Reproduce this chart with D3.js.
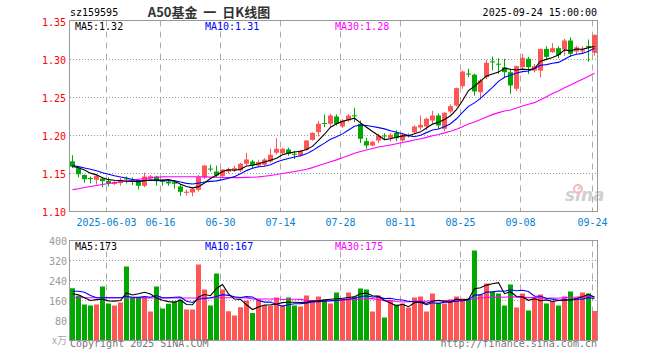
<!DOCTYPE html>
<html>
<head>
<meta charset="utf-8">
<script src="https://cdn.jsdelivr.net/npm/d3@7"></script>
<style>
body { margin:0; background:#fff; }
svg { display:block; }
text { font-family: "DejaVu Sans Mono", "Liberation Mono", monospace; font-size:10px; }
</style>
</head>
<body>
<svg id="chart" width="660" height="360"></svg>
<script>
// trading days shown
var dates = ["2025-05-23","2025-05-26","2025-05-27","2025-05-28","2025-05-29","2025-05-30",
 "2025-06-03","2025-06-04","2025-06-05","2025-06-06","2025-06-09","2025-06-10","2025-06-11","2025-06-12","2025-06-13",
 "2025-06-16","2025-06-17","2025-06-18","2025-06-19","2025-06-20","2025-06-23","2025-06-24","2025-06-25","2025-06-26","2025-06-27","2025-06-30",
 "2025-07-01","2025-07-02","2025-07-03","2025-07-04","2025-07-07","2025-07-08","2025-07-09","2025-07-10","2025-07-11",
 "2025-07-14","2025-07-15","2025-07-16","2025-07-17","2025-07-18","2025-07-21","2025-07-22","2025-07-23","2025-07-24","2025-07-25",
 "2025-07-28","2025-07-29","2025-07-30","2025-07-31","2025-08-01","2025-08-04","2025-08-05","2025-08-06","2025-08-07","2025-08-08",
 "2025-08-11","2025-08-12","2025-08-13","2025-08-14","2025-08-15","2025-08-18","2025-08-19","2025-08-20","2025-08-21","2025-08-22",
 "2025-08-25","2025-08-26","2025-08-27","2025-08-28","2025-08-29","2025-09-01","2025-09-02","2025-09-03","2025-09-04","2025-09-05",
 "2025-09-08","2025-09-09","2025-09-10","2025-09-11","2025-09-12","2025-09-15","2025-09-16","2025-09-17","2025-09-18","2025-09-19",
 "2025-09-22","2025-09-23","2025-09-24"];

var open = [1.166,1.157,1.148,1.1441,1.1417,1.1434,1.140,1.1362,1.1373,1.1435,
 1.142,1.1408,1.1338,1.1437,1.146,1.1408,1.139,1.1386,1.1329,1.1245,
 1.125,1.1286,1.145,1.1565,1.1526,1.1465,1.1526,1.154,1.154,1.1628,
 1.1658,1.1605,1.1615,1.1658,1.1773,1.1767,1.1816,1.176,1.1737,1.1812,
 1.1943,1.2043,1.2165,1.2154,1.225,1.2118,1.2197,1.2265,1.2154,1.1925,
 1.1868,1.1934,1.200,1.1965,1.2035,1.1934,1.200,1.2043,1.2105,1.2118,
 1.2197,1.2263,1.2088,1.2316,1.2395,1.2649,1.2815,1.280,1.257,1.2767,
 1.2975,1.2945,1.2898,1.2833,1.2615,1.2899,1.301,1.2855,1.2855,1.314,
 1.3096,1.3149,1.3132,1.325,1.3105,1.3105,1.3178,1.3087];
var high = [1.174,1.158,1.149,1.146,1.148,1.145,1.145,1.1405,1.144,1.146,
 1.145,1.142,1.151,1.148,1.147,1.142,1.141,1.139,1.1355,1.129,
 1.131,1.148,1.161,1.1615,1.1605,1.156,1.158,1.160,1.164,1.177,
 1.168,1.168,1.170,1.1825,1.1965,1.184,1.184,1.180,1.181,1.194,
 1.204,1.219,1.2276,1.2285,1.2276,1.2215,1.228,1.2365,1.2197,1.197,
 1.193,1.2022,1.203,1.203,1.207,1.2035,1.203,1.2135,1.2263,1.2237,
 1.2325,1.229,1.2308,1.241,1.263,1.2855,1.2878,1.2815,1.2745,1.2995,
 1.304,1.3017,1.301,1.2878,1.292,1.3075,1.3035,1.2942,1.314,1.3175,
 1.3215,1.3175,1.327,1.329,1.318,1.3175,1.3263,1.3325];
var low = [1.157,1.145,1.138,1.137,1.1355,1.132,1.133,1.135,1.134,1.137,
 1.135,1.129,1.132,1.142,1.134,1.134,1.134,1.130,1.1207,1.121,
 1.120,1.126,1.143,1.1526,1.145,1.144,1.150,1.152,1.152,1.161,
 1.157,1.158,1.160,1.164,1.175,1.175,1.1735,1.169,1.172,1.180,
 1.193,1.1987,1.211,1.2118,1.213,1.210,1.218,1.2175,1.190,1.1825,
 1.186,1.190,1.194,1.192,1.1925,1.192,1.197,1.2025,1.2075,1.207,
 1.2155,1.2085,1.2055,1.229,1.238,1.2615,1.2767,1.2525,1.2475,1.274,
 1.2855,1.2813,1.2755,1.2549,1.2585,1.2865,1.281,1.283,1.2767,1.300,
 1.3088,1.3017,1.305,1.3035,1.3075,1.3075,1.297,1.3052];
var close = [1.159,1.149,1.1425,1.1435,1.147,1.140,1.1364,1.1385,1.1417,1.1425,
 1.139,1.1338,1.146,1.1464,1.141,1.139,1.137,1.1365,1.1259,1.126,
 1.130,1.145,1.1605,1.1555,1.1474,1.1553,1.156,1.157,1.1628,1.1684,
 1.1605,1.165,1.1684,1.1746,1.1825,1.1825,1.176,1.1755,1.180,1.1934,
 1.2035,1.2154,1.216,1.2263,1.2154,1.2197,1.2263,1.226,1.1957,1.1868,
 1.1917,1.1996,1.1995,1.2009,1.1965,1.2009,1.2009,1.2118,1.214,1.222,
 1.2263,1.2132,1.2299,1.2386,1.2623,1.2842,1.281,1.258,1.2724,1.2957,
 1.297,1.294,1.2833,1.2658,1.2912,1.3022,1.2899,1.2912,1.314,1.3035,
 1.3149,1.306,1.325,1.3075,1.316,1.312,1.3175,1.3325];

// volume, 万
var volume = [209,180,144,140,144,216,148,140,152,296,
 173,173,171,116,216,128,147,157,163,124,
 124,304,204,140,268,204,117,100,133,160,
 110,165,140,140,172,140,172,140,136,180,
 160,176,160,148,192,168,192,176,208,204,
 116,180,92,160,144,148,132,172,176,116,
 188,152,148,164,176,168,168,360,184,228,
 196,188,140,224,132,188,120,172,184,148,
 156,140,176,196,172,192,188,118];

// averages of the first days (need history before the window)
var ma5Head = [1.1592,1.1575,1.1545,1.1505];
var ma10Head = [1.1605,1.1590,1.1572,1.1555,1.1535,1.1510,1.1490,1.1470,1.1455];
var ma30Head = [1.1288,1.1300,1.1315,1.1330,1.1342,1.1355,1.1368,1.1380,1.1392,1.1402,
 1.1414,1.1425,1.1435,1.1442,1.1450,1.1455,1.1458,1.1458,1.1458,1.1458,
 1.1457,1.1456,1.1455,1.1452,1.1450,1.1448,1.1447,1.1446,1.1446];
var vma5Head = [187,183,171,160];
var vma10Head = [197,197,193,180,171,171,171,171,171];
var vma30Head = [171,171,171,171,171,171,171,171,171,171,171,170,170,170,170,
 170,170,170,170,170,170,170,170,170,171,171,171,171,171];

var priceTicks = [1.10,1.15,1.20,1.25,1.30,1.35];
var volTicks = [80,160,240,320,400];
var dateTicks = ["2025-06-03","2025-06-16","2025-06-30","2025-07-14","2025-07-28","2025-08-11","2025-08-25","2025-09-08","2025-09-24"];
var dateLabels = ["2025-06-03","06-16","06-30","07-14","07-28","08-11","08-25","09-08","09-24"];

var upColor = "#ff5555", downColor = "#00a800";

function movingAvg(vals, n, head) {
    return vals.map(function(v, i) {
        if (i < n - 1) return head[i];
        return d3.mean(vals.slice(i - n + 1, i + 1));
    });
}

var ma5 = movingAvg(close, 5, ma5Head);
var ma10 = movingAvg(close, 10, ma10Head);
var ma30 = movingAvg(close, 30, ma30Head);
var vma5 = movingAvg(volume, 5, vma5Head);
var vma10 = movingAvg(volume, 10, vma10Head);
var vma30 = movingAvg(volume, 30, vma30Head);

var chart = d3.select("#chart");

var xScale = d3.scaleBand().domain(dates).range([70, 598]).padding(0);
var yPrice = d3.scaleLinear().domain([1.10, 1.35]).range([211.5, 21.5]);
var yVol = d3.scaleLinear().domain([0, 400]).range([340.5, 240.5]);

var defs = chart.append("defs");
defs.append("clipPath").attr("id", "clipP").append("rect")
    .attr("x", 70).attr("y", 21).attr("width", 527).attr("height", 190);
defs.append("clipPath").attr("id", "clipV").append("rect")
    .attr("x", 70).attr("y", 241).attr("width", 527).attr("height", 99);

// header
chart.append("text").text("sz159595").attr("x", 70).attr("y", 16).attr("fill", "#000");
chart.append("text").text("A50基金  一  日K线图")
    .attr("x", 209).attr("y", 17)
    .style("text-anchor", "middle")
    .style("white-space", "pre")
    .style("font-family", "'Noto Sans CJK SC', sans-serif")
    .style("font-size", "13px")
    .attr("font-weight", "bold")
    .attr("fill", "#333");
chart.append("text").text("2025-09-24 15:00:00").attr("x", 597).attr("y", 16)
    .style("text-anchor", "end").attr("fill", "#000");

// grids
[["P", 20.5, 211.5], ["V", 240.5, 340.5]].forEach(function(p) {
    chart.append("g").selectAll("line")
        .data(dateTicks).enter()
        .append("line")
            .attr("x1", function(d) { return xScale(d) + 0.5; })
            .attr("x2", function(d) { return xScale(d) + 0.5; })
            .attr("y1", p[1]).attr("y2", p[2])
            .attr("stroke", "#aaa")
            .attr("stroke-dasharray", "6,5");
});

chart.append("g").selectAll("line")
    .data(priceTicks.slice(1, 5)).enter()
    .append("line")
        .attr("x1", 70).attr("x2", 597)
        .attr("y1", function(d) { return yPrice(d); })
        .attr("y2", function(d) { return yPrice(d); })
        .attr("stroke", "#999")
        .attr("stroke-dasharray", "1,2");

chart.append("g").selectAll("line")
    .data(volTicks.slice(0, 4)).enter()
    .append("line")
        .attr("x1", 70).attr("x2", 597)
        .attr("y1", function(d) { return yVol(d); })
        .attr("y2", function(d) { return yVol(d); })
        .attr("stroke", "#999")
        .attr("stroke-dasharray", "1,2");

// watermark
var wm = chart.append("g").attr("opacity", 0.55);
wm.append("text").text("sina").attr("x", 565).attr("y", 201)
    .style("font-family", "'DejaVu Sans', sans-serif")
    .style("font-size", "17px").style("font-style", "italic").attr("font-weight", "bold")
    .attr("fill", "#aaa");
wm.append("circle").attr("cx", 578).attr("cy", 189).attr("r", 4)
    .attr("fill", "none").attr("stroke", "#f08080").attr("stroke-width", 2);

// candles
var candles = chart.append("g").attr("clip-path", "url(#clipP)");
candles.selectAll(".wick")
    .data(dates).enter()
    .append("rect")
        .attr("class", "wick")
        .attr("x", function(d) { return xScale(d) + 2; })
        .attr("y", function(d, i) { return yPrice(high[i]); })
        .attr("width", 1)
        .attr("height", function(d, i) { return Math.max(1, yPrice(low[i]) - yPrice(high[i])); })
        .attr("fill", function(d, i) { return close[i] >= open[i] ? upColor : downColor; });
candles.selectAll(".body")
    .data(dates).enter()
    .append("rect")
        .attr("class", "body")
        .attr("x", function(d) { return xScale(d); })
        .attr("y", function(d, i) { return yPrice(Math.max(open[i], close[i])); })
        .attr("width", 5)
        .attr("height", function(d, i) { return Math.max(1, Math.abs(yPrice(open[i]) - yPrice(close[i]))); })
        .attr("fill", function(d, i) { return close[i] >= open[i] ? upColor : downColor; });

function drawLine(g, vals, yS, color) {
    var line = d3.line()
        .x(function(d, i) { return xScale(dates[i]) + 2.5; })
        .y(function(d) { return yS(d); });
    g.append("path").datum(vals)
        .attr("d", line)
        .attr("fill", "none")
        .attr("stroke", color)
        .attr("stroke-width", 1.1);
}
drawLine(candles, ma30, yPrice, "#ff00ff");
drawLine(candles, ma10, yPrice, "#0000ff");
drawLine(candles, ma5, yPrice, "#000000");

// volume bars
var vols = chart.append("g").attr("clip-path", "url(#clipV)");
vols.selectAll("rect")
    .data(dates).enter()
    .append("rect")
        .attr("x", function(d) { return xScale(d); })
        .attr("y", function(d, i) { return yVol(volume[i]); })
        .attr("width", 5)
        .attr("height", function(d, i) { return 340.5 - yVol(volume[i]); })
        .attr("fill", function(d, i) { return close[i] >= open[i] ? upColor : downColor; });
drawLine(vols, vma30, yVol, "#ff00ff");
drawLine(vols, vma10, yVol, "#0000ff");
drawLine(vols, vma5, yVol, "#000000");

// frames
chart.append("rect").attr("x", 69.5).attr("y", 20.5).attr("width", 528).attr("height", 191)
    .attr("fill", "none").attr("stroke", "#999");
chart.append("rect").attr("x", 69.5).attr("y", 240.5).attr("width", 528).attr("height", 100)
    .attr("fill", "none").attr("stroke", "#999");

// axis labels
chart.append("g").selectAll("text")
    .data(priceTicks).enter()
    .append("text")
        .text(function(d) { return d.toFixed(2); })
        .attr("x", 66)
        .attr("y", function(d) { return yPrice(d) + 4; })
        .style("text-anchor", "end")
        .attr("fill", "#ff0000");

chart.append("g").selectAll("text")
    .data(volTicks).enter()
    .append("text")
        .text(function(d) { return d; })
        .attr("x", 67)
        .attr("y", function(d) { return yVol(d) + 4; })
        .style("text-anchor", "end")
        .attr("fill", "#999");
chart.append("text").text("x万").attr("x", 67).attr("y", 344)
    .style("text-anchor", "end").attr("fill", "#aaa")
    .style("font-family", "'Noto Sans CJK SC', sans-serif");

chart.append("g").selectAll("text")
    .data(dateTicks).enter()
    .append("text")
        .text(function(d, i) { return dateLabels[i]; })
        .attr("x", function(d) { return xScale(d) + 0.5; })
        .attr("y", 226)
        .style("text-anchor", "middle")
        .attr("fill", "#0a80d0");

// legends
var last = dates.length - 1;
chart.append("text").text("MA5:" + ma5[last].toFixed(2)).attr("x", 75).attr("y", 30).attr("fill", "#000");
chart.append("text").text("MA10:" + ma10[last].toFixed(2)).attr("x", 205).attr("y", 30).attr("fill", "#0000ff");
chart.append("text").text("MA30:" + ma30[last].toFixed(2)).attr("x", 335).attr("y", 30).attr("fill", "#ff00ff");
chart.append("text").text("MA5:" + Math.round(vma5[last])).attr("x", 75).attr("y", 250).attr("fill", "#000");
chart.append("text").text("MA10:" + Math.round(vma10[last])).attr("x", 205).attr("y", 250).attr("fill", "#0000ff");
chart.append("text").text("MA30:" + Math.round(vma30[last])).attr("x", 335).attr("y", 250).attr("fill", "#ff00ff");

// footer
chart.append("text").text("Copyright 2025 SINA.COM").attr("x", 70).attr("y", 347).attr("fill", "#777");
chart.append("text").text("http://finance.sina.com.cn").attr("x", 597).attr("y", 347)
    .style("text-anchor", "end").attr("fill", "#777");
</script>
</body>
</html>
